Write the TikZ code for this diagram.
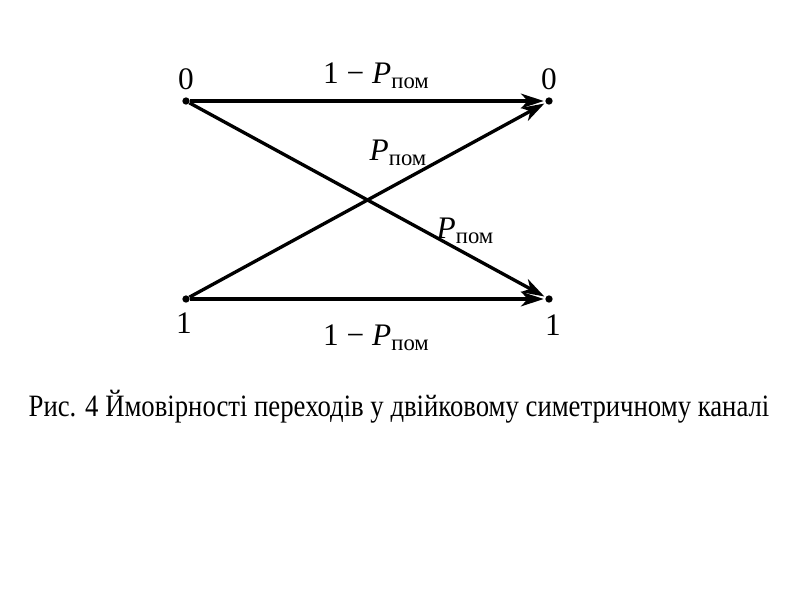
\documentclass[tikz,border=0pt]{standalone}
\usepackage{fontspec}
\setmainfont{Liberation Serif}
\usetikzlibrary{arrows.meta}
\newcommand{\Ppom}{\textit{P}\raisebox{-0.35ex}{\fontsize{17}{17}\selectfont пом}}
\begin{document}
\begin{tikzpicture}[x=0.75pt,y=-0.75pt,
  pt/.style={circle,fill=black,inner sep=0pt,minimum size=5.5pt},
  lbl/.style={inner sep=0pt,font=\fontsize{23.5}{24}\selectfont},
  edge/.style={line width=2.5pt,-{Stealth[length=17pt,width=11pt,inset=5pt]},shorten >=1pt}]
\useasboundingbox (0,0) rectangle (800,600);
\node[pt] (a0) at (186,101) {};
\node[pt] (b0) at (549,101) {};
\node[pt] (a1) at (186,299) {};
\node[pt] (b1) at (549,299) {};
\draw[edge] (a0) -- (b0);
\draw[edge] (a0) -- (b1);
\draw[edge] (a1) -- (b0);
\draw[edge] (a1) -- (b1);
\node[lbl] (la0) at (186,79) {0};
\node[lbl] (lb0) at (549,79) {0};
\node[lbl] (la1) at (184,323) {1};
\node[lbl] (lb1) at (553,325) {1};
\node[lbl] (t1) at (376,76) {1 − \Ppom};
\node[lbl] (t2) at (376,338) {1 − \Ppom};
\node[lbl] (t3) at (398,153) {\Ppom};
\node[lbl] (t4) at (465,231) {\Ppom};
\node[inner sep=0pt,font=\fontsize{23.3}{24}\selectfont] (cap) at (399,407) {\scalebox{0.86}[1]{Рис. 4 Ймовірності переходів у двійковому симетричному каналі}};
\end{tikzpicture}
\end{document}
